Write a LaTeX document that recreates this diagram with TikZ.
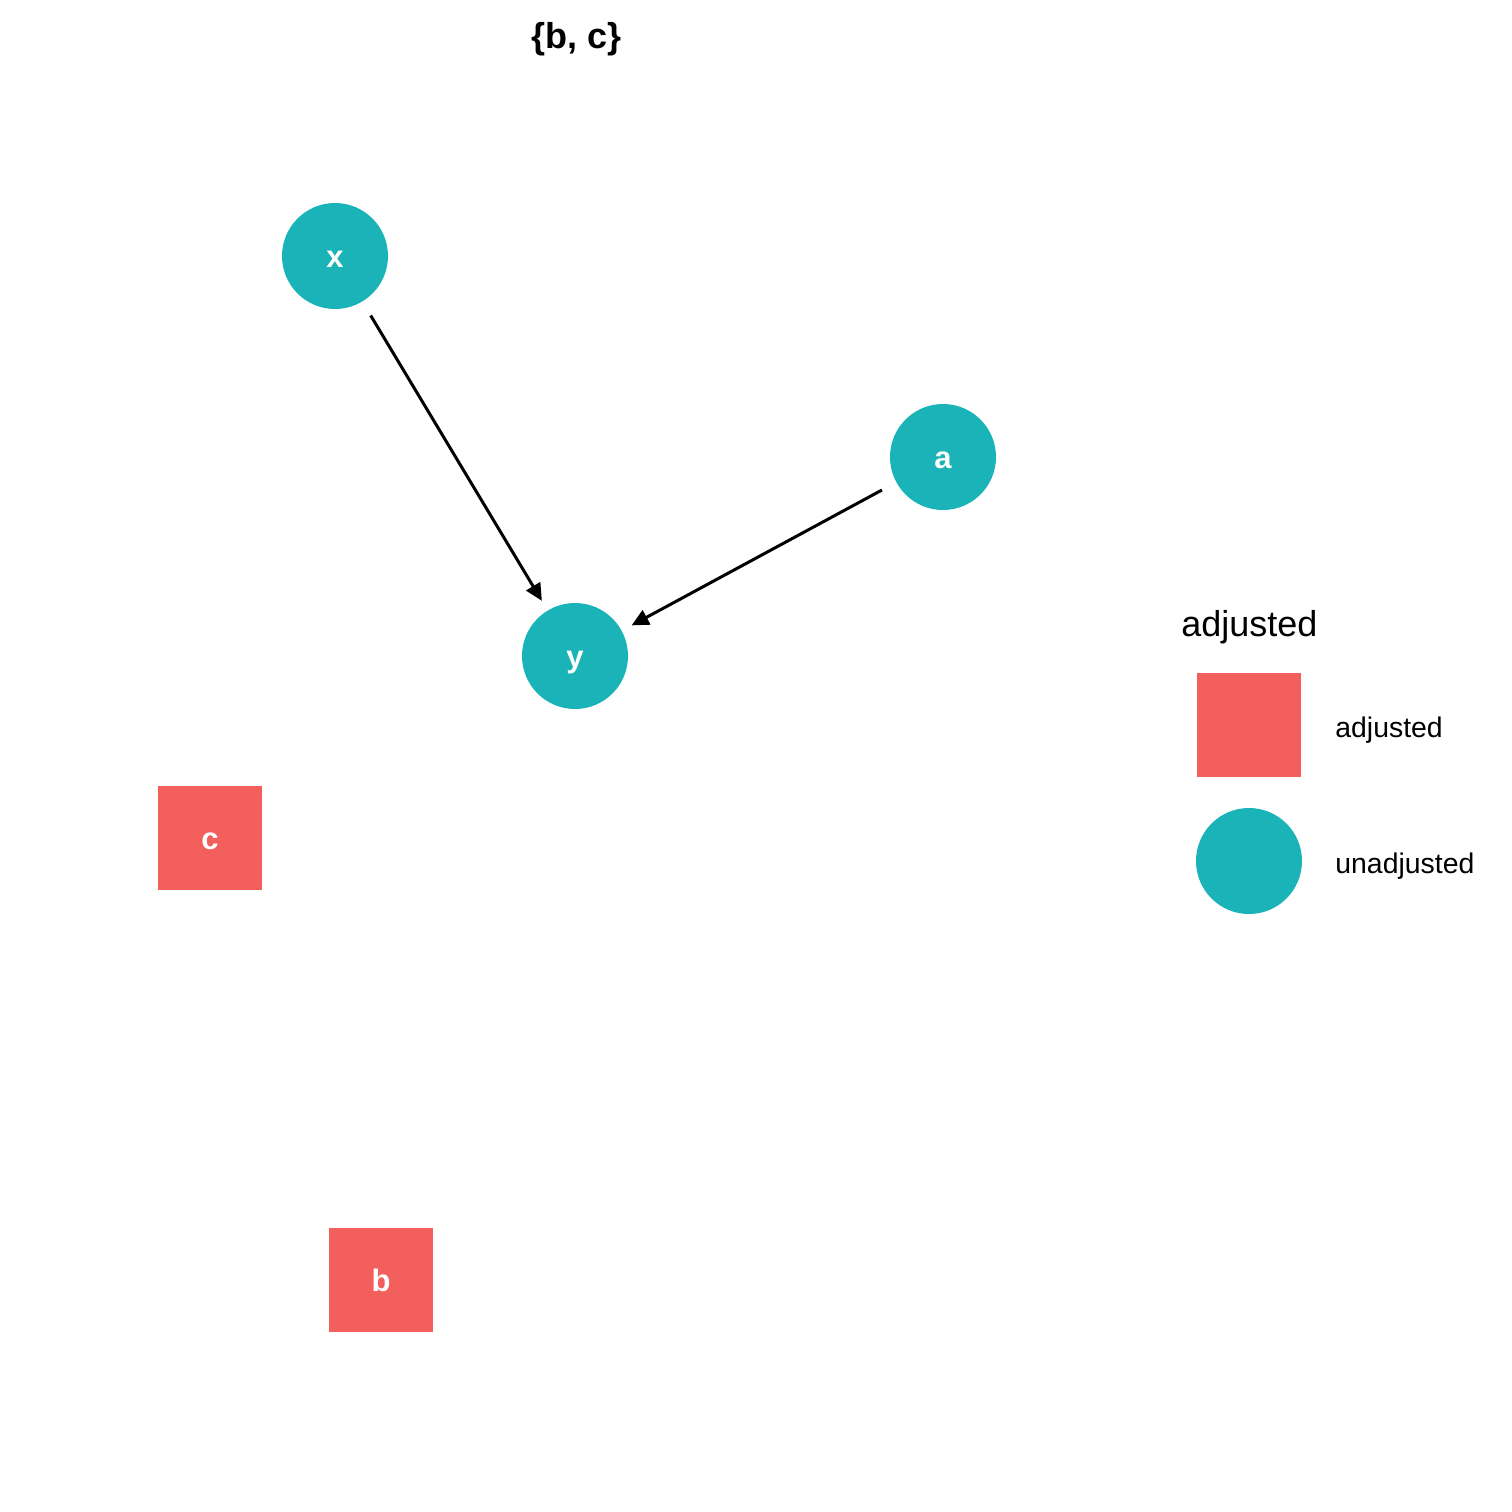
\documentclass[tikz,border=0pt]{standalone}
\usepackage{fontspec}
\setmainfont{Liberation Sans}
\usetikzlibrary{arrows.meta}
\definecolor{adjred}{HTML}{F35F5C}
\definecolor{unadjteal}{HTML}{19B3B8}
\tikzset{
  lbl/.style={text=white, font=\fontsize{15.5}{15.5}\selectfont\bfseries, text height=11pt, text depth=0pt},
  unadj/.style={circle, fill=unadjteal, minimum size=53pt, inner sep=0pt, lbl},
  adj/.style={rectangle, fill=adjred, minimum size=52pt, inner sep=0pt, lbl},
  edge/.style={line width=1.5pt, -{Triangle[length=8.5pt,width=8pt]}, shorten <=8pt, shorten >=5.5pt},
  legtext/.style={anchor=base west, font=\fontsize{14.2}{14.2}\selectfont, inner sep=0pt}
}
\begin{document}
\begin{tikzpicture}[x=0.5pt,y=-0.5pt]
\useasboundingbox (0,0) rectangle (1512,1512);
\node[font=\fontsize{18}{18}\selectfont\bfseries, anchor=base, inner sep=0pt] (title) at (577,48) {\{b, c\}};
\node[unadj] (x) at (335,256) {x};
\node[unadj] (a) at (943,457) {a};
\node[unadj] (y) at (575,656) {y};
\node[adj] (c) at (210,838) {c};
\node[adj] (b) at (381,1280) {b};
\draw[edge] (x) -- (y);
\draw[edge] (a) -- (y);
% legend
\node[font=\fontsize{18}{18}\selectfont, anchor=base west, inner sep=0pt] (legtitle) at (1181,636) {adjusted};
\node[adj] (legsq) at (1249,725) {};
\node[unadj] (legci) at (1249,861) {};
\node[legtext] (legadj) at (1335,737) {adjusted};
\node[legtext] (legunadj) at (1335,873) {unadjusted};
\end{tikzpicture}
\end{document}
